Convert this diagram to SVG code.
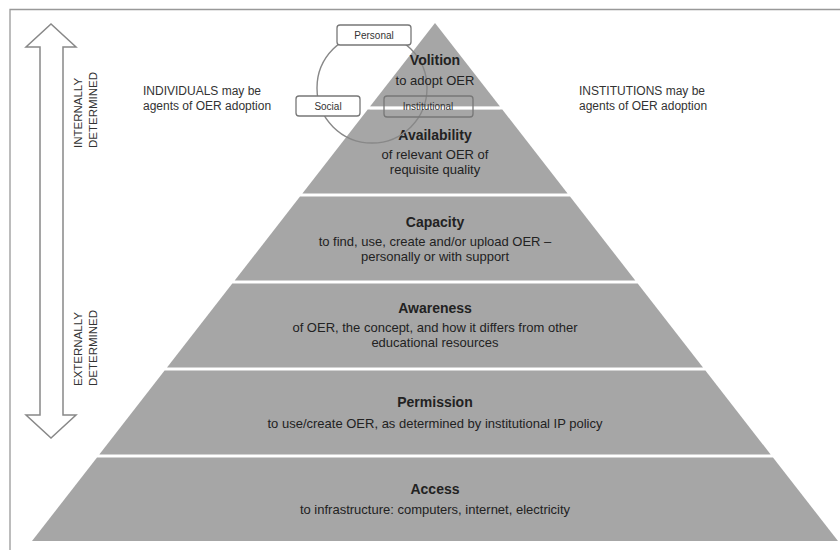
<svg xmlns="http://www.w3.org/2000/svg" width="840" height="550" viewBox="0 0 840 550">
<style>
.band{fill:#a6a6a6;}
.t{font-family:"Liberation Sans",Arial,sans-serif;fill:#222;text-anchor:middle;}
.b{font-size:14px;font-weight:bold;}
.n{font-size:13px;}
.side{font-family:"Liberation Sans",Arial,sans-serif;font-size:12px;fill:#333;}
.vert{font-family:"Liberation Sans",Arial,sans-serif;font-size:11.5px;fill:#333;}
.box{fill:#fff;stroke:#777;stroke-width:1.3;}
.lbl{font-family:"Liberation Sans",Arial,sans-serif;font-size:10px;fill:#333;text-anchor:middle;}
</style>
<rect width="840" height="550" fill="#fff"/>
<g id="frame"><polyline points="10,550 10,9.5 840,9.5" fill="none" stroke="#999" stroke-width="1.3"/></g>

<g id="volition"><polygon class="band" points="435,23 500,106.5 370,106.5"/></g>
<g id="availability"><polygon class="band" points="367.7,109.5 502.3,109.5 567.6,193.5 302.4,193.5"/>
<text class="t b" x="435" y="140">Availability</text>
<text class="t n" x="435" y="159">of relevant OER of</text>
<text class="t n" x="435" y="174">requisite quality</text></g>
<g id="capacity"><polygon class="band" points="300,196.5 570,196.5 635.3,280.5 234.7,280.5"/>
<text class="t b" x="435" y="227">Capacity</text>
<text class="t n" x="435" y="246">to find, use, create and/or upload OER –</text>
<text class="t n" x="435" y="261">personally or with support</text></g>
<g id="awareness"><polygon class="band" points="232.3,283.5 637.7,283.5 703,367.5 167,367.5"/>
<text class="t b" x="435" y="313">Awareness</text>
<text class="t n" x="435" y="332">of OER, the concept, and how it differs from other</text>
<text class="t n" x="435" y="347">educational resources</text></g>
<g id="permission"><polygon class="band" points="164.6,370.5 705.4,370.5 770.7,454.5 99.3,454.5"/>
<text class="t b" x="435" y="407">Permission</text>
<text class="t n" x="435" y="428">to use/create OER, as determined by institutional IP policy</text></g>
<g id="access"><polygon class="band" points="97,457.5 773,457.5 838,541 32,541"/>
<text class="t b" x="435" y="494">Access</text>
<text class="t n" x="435" y="514">to infrastructure: computers, internet, electricity</text></g>

<g id="venn">
<circle cx="372" cy="88" r="55" fill="none" stroke="#888" stroke-width="1.4"/>
<g id="personal"><rect class="box" x="337" y="25" width="74" height="20" rx="3"/><text class="lbl" x="374" y="39">Personal</text></g>
<g id="social"><rect class="box" x="296" y="96" width="64" height="20" rx="3"/><text class="lbl" x="328" y="110">Social</text></g>
<line x1="370" y1="108" x2="500" y2="108" stroke="#fff" stroke-width="2.5"/>
<g id="institutional"><rect x="384" y="96" width="89" height="21" rx="3" fill="none" stroke="#777" stroke-width="1.3"/><text class="lbl" x="428" y="110">Institutional</text></g>
</g>
<g id="volition-text">
<text class="t b" x="435" y="65">Volition</text>
<text class="t n" x="435" y="85">to adopt OER</text>
</g>

<g id="connectors">
<polygon points="40,415 40,47 26,47 51,24 76,47 63,47 63,415 76,415 51,438 26,415" fill="#fff" stroke="#888" stroke-width="1.5"/>
</g>

<g id="labels">
<text class="vert" transform="translate(82,148) rotate(-90)">INTERNALLY</text>
<text class="vert" transform="translate(97,148) rotate(-90)">DETERMINED</text>
<text class="vert" transform="translate(82,386) rotate(-90)">EXTERNALLY</text>
<text class="vert" transform="translate(97,386) rotate(-90)">DETERMINED</text>
<text class="side" x="143" y="95">INDIVIDUALS may be</text>
<text class="side" x="143" y="110">agents of OER adoption</text>
<text class="side" x="579" y="95">INSTITUTIONS may be</text>
<text class="side" x="579" y="110">agents of OER adoption</text>
</g>
</svg>
